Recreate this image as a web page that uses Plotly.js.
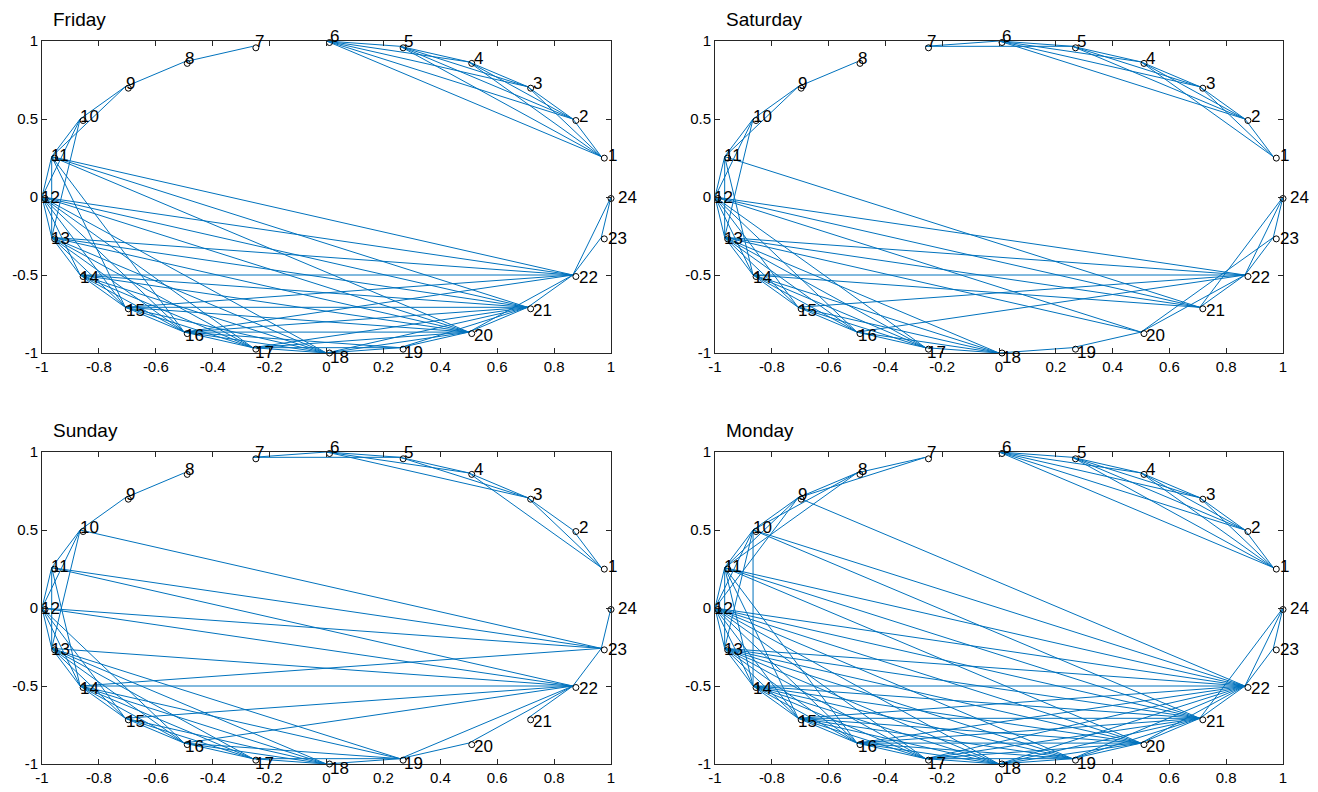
<!DOCTYPE html>
<html>
<head>
<meta charset="utf-8">
<script src="https://cdn.plot.ly/plotly-3.0.1.min.js"></script>
<style>
  html, body { margin: 0; padding: 0; background: #ffffff; }
  #chart { width: 1318px; height: 792px; }
</style>
</head>
<body>
<div id="chart"></div>
<script>
// ---- data ----
const dayNames = ["Friday", "Saturday", "Sunday", "Monday"];
const nodeLabels = ["1","2","3","4","5","6","7","8","9","10","11","12",
                    "13","14","15","16","17","18","19","20","21","22","23","24"];
const xTickVals = [-1, -0.8, -0.6, -0.4, -0.2, 0, 0.2, 0.4, 0.6, 0.8, 1];
const xTickText = ["-1","-0.8","-0.6","-0.4","-0.2","0","0.2","0.4","0.6","0.8","1"];
const yTickVals = [-1, -0.5, 0, 0.5, 1];
const yTickText = ["-1","-0.5","0","0.5","1"];

const fridayEdges = [
  [1,2],[1,3],[1,4],[1,5],[1,6],[2,3],[2,4],[2,5],[2,6],[3,4],[3,5],[3,6],[4,5],[4,6],[5,6],
  [7,8],[8,9],[9,10],[9,11],[10,11],[10,12],[10,13],
  [11,12],[11,13],[11,15],[11,16],[11,20],[11,21],[11,22],
  [12,13],[12,14],[12,15],[12,16],[12,17],[12,18],[12,20],[12,21],[12,22],
  [13,14],[13,15],[13,16],[13,17],[13,18],[13,20],[13,21],[13,22],
  [14,15],[14,16],[14,17],[14,18],[14,20],[14,21],[14,22],
  [15,16],[15,17],[15,18],[15,20],[15,21],[15,22],
  [16,17],[16,18],[16,19],[16,20],[16,21],[16,22],
  [17,18],[17,19],[17,20],[17,21],
  [18,19],[18,20],[18,21],[19,20],[19,21],
  [20,21],[20,22],[21,22],[22,23],[22,24],[23,24]
];
const saturdayEdges = [
  [6,7],[5,7],[5,6],[4,6],[3,6],[2,6],[4,5],[3,5],[2,5],[3,4],[2,4],[1,4],[2,3],[1,3],[1,2],
  [8,9],[9,10],[9,11],[10,11],[10,12],[10,13],
  [11,12],[11,13],[11,14],[11,21],
  [12,13],[12,14],[12,15],[12,16],[12,17],[12,20],[12,21],[12,22],
  [13,14],[13,15],[13,16],[13,17],[13,18],[13,20],[13,21],[13,22],
  [14,15],[14,16],[14,17],[14,18],[14,21],[14,22],
  [15,16],[15,17],[15,18],[15,22],
  [16,17],[16,18],[16,22],
  [17,18],
  [18,19],[19,20],[20,22],[20,23],[21,22],[21,24],[22,23],[22,24],[23,24]
];
const sundayEdges = [
  [6,7],[5,7],[5,6],[4,6],[3,6],[4,5],[3,5],[3,4],[2,3],[1,2],[1,3],[1,4],
  [8,9],[9,10],[10,11],[10,12],[10,13],[10,23],
  [11,12],[11,13],[11,14],[11,22],[11,23],
  [12,13],[12,14],[12,15],[12,16],[12,22],[12,23],
  [13,14],[13,15],[13,16],[13,17],[13,18],[13,19],[13,22],
  [14,15],[14,16],[14,17],[14,18],[14,19],[14,22],[14,23],
  [15,16],[15,17],[15,18],[15,22],
  [16,17],[16,18],[16,19],[16,22],
  [17,18],[17,19],
  [18,19],[19,20],[19,22],[20,22],[21,22],[22,23],[23,24]
];
const mondayEdges = [
  [1,2],[1,3],[1,4],[1,5],[1,6],[2,3],[2,4],[2,5],[2,6],[3,4],[3,5],[3,6],[4,5],[4,6],[5,6],
  [7,8],[7,9],[8,9],[8,10],[8,11],[9,10],[9,11],[9,12],[9,22],
  [10,11],[10,12],[10,13],[10,14],[10,21],[10,22],
  [11,12],[11,13],[11,14],[11,15],[11,16],[11,20],[11,21],[11,22],
  [12,13],[12,14],[12,15],[12,16],[12,17],[12,18],[12,19],[12,20],[12,21],[12,22],
  [13,14],[13,15],[13,16],[13,17],[13,18],[13,19],[13,20],[13,21],[13,22],
  [14,15],[14,16],[14,17],[14,18],[14,19],[14,20],[14,21],[14,22],
  [15,16],[15,17],[15,18],[15,19],[15,20],[15,21],[15,22],
  [16,17],[16,18],[16,19],[16,20],[16,21],[16,22],
  [17,18],[17,19],[17,20],[17,21],[17,22],
  [18,19],[18,20],[18,21],[18,22],
  [19,20],[19,21],[19,22],[20,21],[20,22],[21,22],[21,24],[22,23],[22,24],[23,24]
];
const allEdges = [fridayEdges, saturdayEdges, sundayEdges, mondayEdges];

// ---- layout helpers ----
const W = 1318, H = 792;
// plot-area pixel boxes [left, right, top, bottom]
const boxes = [
  [42, 611, 41, 353],
  [715, 1283, 41, 353],
  [42, 611, 452, 764],
  [715, 1283, 452, 764]
];
const lineColor = "#0072BD";
const axisColor = "#262626";
const fontFam = "Liberation Sans, Arial, Helvetica, sans-serif";

// circular layout: node k at angle 15*k degrees
const nodeAng = nodeLabels.map((_, i) => (i + 1) * 15 * Math.PI / 180);
const nodeX = nodeAng.map(a => Math.cos(a));
const nodeY = nodeAng.map(a => Math.sin(a));
const clamp = v => Math.max(-1, Math.min(1, v));

const traces = [];
const annotations = [];
const layout = {
  width: W, height: H,
  margin: {l: 0, r: 0, t: 0, b: 0},
  paper_bgcolor: "#ffffff",
  plot_bgcolor: "#ffffff",
  showlegend: false,
  font: {family: fontFam, color: axisColor, size: 15},
  annotations: annotations
};

boxes.forEach((b, p) => {
  const sfx = p === 0 ? "" : String(p + 1);
  const xa = "x" + sfx, ya = "y" + sfx;
  const pxX = 2 / (b[1] - b[0]);   // data units per pixel
  const pxY = 2 / (b[3] - b[2]);
  layout["xaxis" + sfx] = {
    domain: [b[0] / W, b[1] / W],
    range: [-1, 1], anchor: ya,
    tickvals: xTickVals, ticktext: xTickText,
    ticks: "inside", ticklen: 5, tickwidth: 1, tickcolor: axisColor,
    showline: true, linecolor: axisColor, linewidth: 1, mirror: "ticks",
    showgrid: false, zeroline: false, fixedrange: true,
    tickfont: {family: fontFam, size: 15, color: "#000000"}
  };
  layout["yaxis" + sfx] = {
    domain: [1 - b[3] / H, 1 - b[2] / H],
    range: [-1, 1], anchor: xa,
    tickvals: yTickVals, ticktext: yTickText,
    ticks: "inside", ticklen: 5, tickwidth: 1, tickcolor: axisColor,
    showline: true, linecolor: axisColor, linewidth: 1, mirror: "ticks",
    showgrid: false, zeroline: false, fixedrange: true,
    tickfont: {family: fontFam, size: 15, color: "#000000"}
  };

  // edges
  const ex = [], ey = [];
  allEdges[p].forEach(([a, c]) => {
    ex.push(nodeX[a - 1], nodeX[c - 1], null);
    ey.push(nodeY[a - 1], nodeY[c - 1], null);
  });
  traces.push({
    type: "scatter", mode: "lines", x: ex, y: ey, xaxis: xa, yaxis: ya,
    line: {color: lineColor, width: 1}, hoverinfo: "skip", cliponaxis: false
  });

  // node markers: small 'o' drawn just right of / below each node point (kept inside range)
  traces.push({
    type: "scatter", mode: "markers",
    x: nodeX.map(v => clamp(v + 3 * pxX)), y: nodeY.map(v => clamp(v - 1.5 * pxY)),
    xaxis: xa, yaxis: ya, cliponaxis: false, hoverinfo: "skip",
    marker: {symbol: "circle-open", size: 6, color: "#000000", line: {width: 1, color: "#000000"}}
  });

  nodeLabels.forEach((lab, i) => {
    const c = Math.cos(nodeAng[i]), s = Math.sin(nodeAng[i]);
    annotations.push({
      xref: xa, yref: ya, x: nodeX[i], y: nodeY[i],
      text: lab, showarrow: false, xanchor: "left", yanchor: "middle",
      font: {family: fontFam, size: 17, color: "#000000"},
      xshift: 1 + 4 * c, yshift: 4.5 * s
    });
  });

  // title
  annotations.push({
    xref: "paper", yref: "paper",
    x: (b[0] + 9) / W, y: 1 - (b[2] - 22) / H,
    text: dayNames[p], showarrow: false, xanchor: "left", yanchor: "middle",
    font: {family: fontFam, size: 19, color: "#000000"}
  });
});

Plotly.newPlot("chart", traces, layout, {staticPlot: true, displayModeBar: false});
</script>
</body>
</html>
